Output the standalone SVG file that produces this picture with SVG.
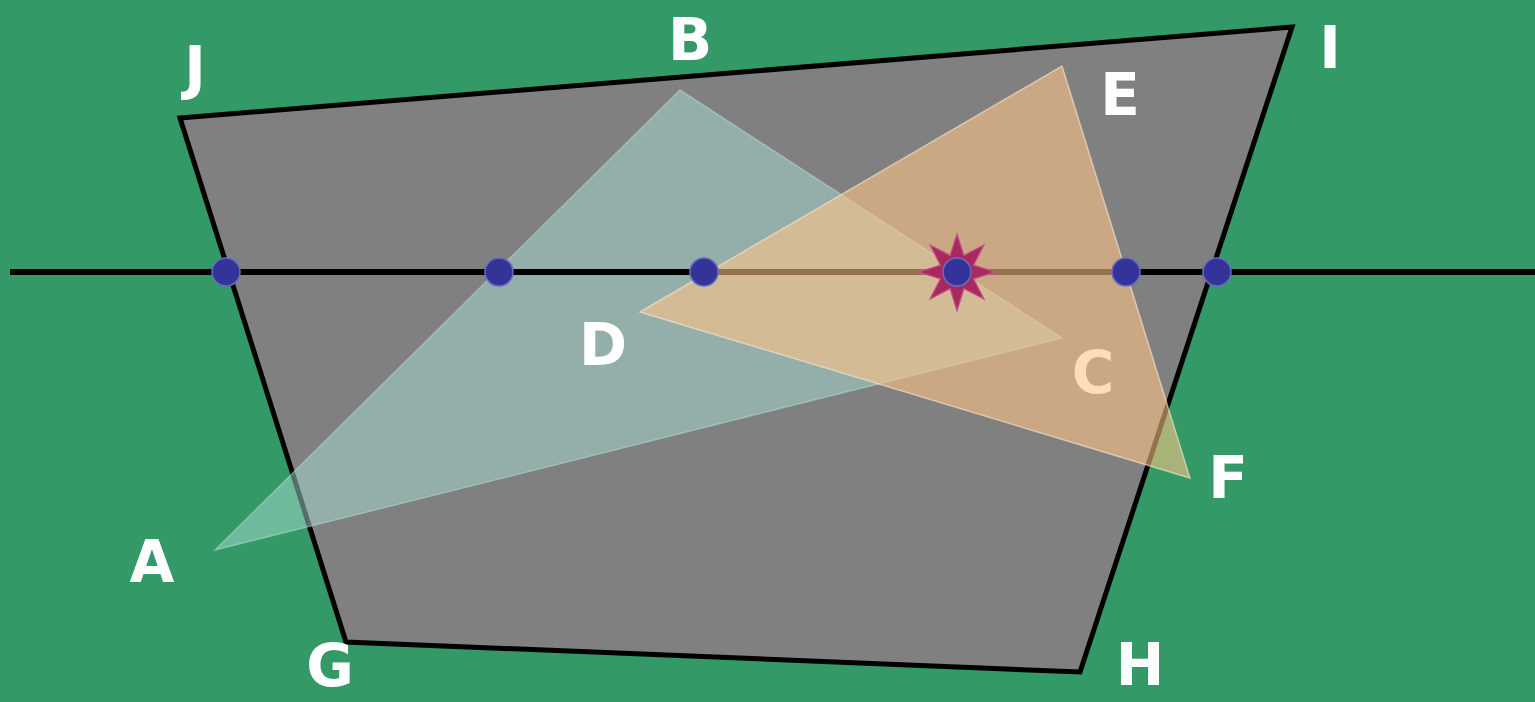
<svg xmlns="http://www.w3.org/2000/svg" width="1535" height="702" viewBox="0 0 1535 702">
<style>
.lbl{font-family:"DejaVu Sans","Liberation Sans",sans-serif;font-weight:bold;font-size:58px;fill:#ffffff;text-anchor:middle}
.pt{fill:#333399;stroke:#6a6ac0;stroke-width:1.5}
</style>
<rect x="0" y="0" width="1535" height="702" fill="#339966"/>
<g id="quad">
<polygon points="180,118 1292,27 1080,672 346,642" fill="#808080" stroke="#000000" stroke-width="5" stroke-linejoin="miter"/>
</g>
<g id="triangleABC">
<polygon points="215,550 680,90 1062,338" fill="#a8dcd4" fill-opacity="0.5" stroke="#b8e0d8" stroke-opacity="0.5" stroke-width="1.5"/>
</g>
<g id="labels">
<text class="lbl" x="195" y="88">J</text>
<text class="lbl" x="690" y="60">B</text>
<text class="lbl" x="1120" y="115">E</text>
<text class="lbl" x="1330" y="68">I</text>
<text class="lbl" x="603" y="365">D</text>
<text class="lbl" x="1093" y="393">C</text>
<text class="lbl" x="1228" y="498">F</text>
<text class="lbl" x="152" y="582">A</text>
<text class="lbl" x="330" y="686">G</text>
<text class="lbl" x="1140" y="685">H</text>
</g>
<g id="connectors">
<line x1="10" y1="272" x2="1535" y2="272" stroke="#000000" stroke-width="6"/>
</g>
<g id="triangleDEF">
<polygon points="640,312 1062,66 1190,478" fill="#ffc486" fill-opacity="0.58" stroke="#ffe8d0" stroke-opacity="0.6" stroke-width="1.5"/>
</g>
<g id="points">
<circle class="pt" cx="226" cy="272" r="14"/>
<circle class="pt" cx="499" cy="272" r="14"/>
<circle class="pt" cx="704" cy="272" r="14"/>
<circle class="pt" cx="1126" cy="272" r="14"/>
<circle class="pt" cx="1217" cy="272" r="14"/>
</g>
<g id="star">
<polygon points="957,234 963.9,255.4 984,245 973.6,265.1 995,272 973.6,278.9 984,299 963.9,288.6 957,311 950.1,288.6 930,299 940.4,278.9 919,272 940.4,265.1 930,245 950.1,255.4" fill="#a82860" stroke="#c8508a" stroke-width="1.2"/>
<circle class="pt" cx="957" cy="272" r="14"/>
</g>
</svg>
